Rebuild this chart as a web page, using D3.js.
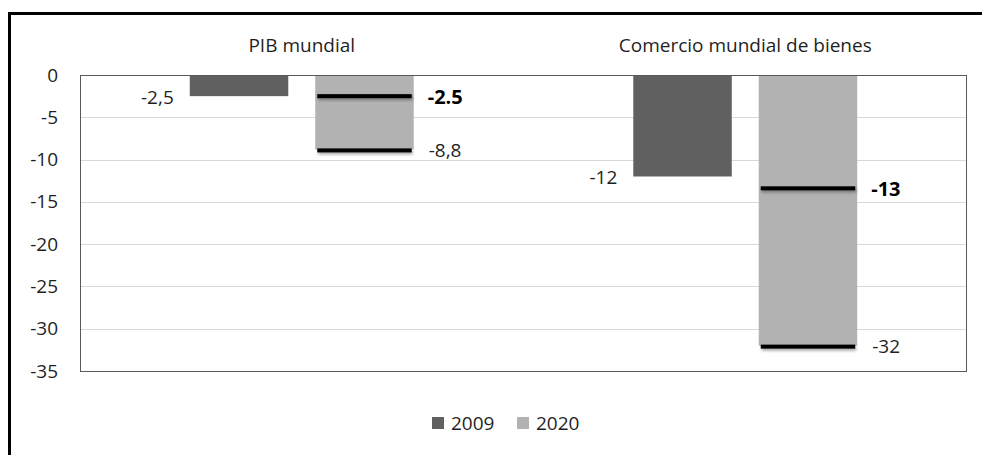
<!DOCTYPE html>
<html>
<head>
<meta charset="utf-8">
<script src="https://cdn.jsdelivr.net/npm/d3@7"></script>
<style>
  body { margin: 0; background: #fff; }
  svg { display: block; font-family: "Open Sans", sans-serif; }
</style>
</head>
<body>
<div id="chart"></div>
<script>
// chart values
const categories = ["PIB mundial", "Comercio mundial de bienes"];
const years = ["2009", "2020"];
const values2009 = [-2.5, -12];
const values2020 = [-8.8, -32];
const labels2009 = ["-2,5", "-12"];
const labels2020 = ["-8,8", "-32"];
// forecast markers drawn on the 2020 bars
const forecastValues = [-2.5, -13.4];
const forecastLabels = ["-2.5", "-13"];
const yTicks = [0, -5, -10, -15, -20, -25, -30, -35];

const width = 982, height = 455;
const margin = {top: 75, right: 15, bottom: 84, left: 80};
const colors = {"2009": "#606060", "2020": "#b2b2b2"};
const fontSize = "19px";
const textColor = "#1f1f1f";

const svg = d3.select("#chart").append("svg")
    .attr("width", width)
    .attr("height", height);

const defs = svg.append("defs");
const shadow = defs.append("filter").attr("id", "shadow")
    .attr("x", "-10%").attr("y", "-100%").attr("width", "120%").attr("height", "400%");
shadow.append("feDropShadow")
    .attr("dx", 1).attr("dy", 2).attr("stdDeviation", 1.5)
    .attr("flood-color", "#000").attr("flood-opacity", 0.35);

// outer frame (only left and top edges visible)
svg.append("path")
    .attr("d", `M9.5,${height} V13.5 H${width}`)
    .attr("fill", "none")
    .attr("stroke", "#000")
    .attr("stroke-width", 3);

let y = d3.scaleLinear()
    .domain([-35, 0])
    .range([height - margin.bottom, margin.top]);

let x0 = d3.scaleBand()
    .domain(categories)
    .range([margin.left, width - margin.right]);

let x1 = d3.scaleBand()
    .domain(years)
    .range([0, x0.bandwidth()])
    .paddingInner(0.215)
    .paddingOuter(0.875);

// gridlines
svg.append("g")
  .selectAll("line")
  .data(yTicks.filter(d => d !== 0 && d !== -35))
  .enter().append("line")
    .attr("x1", margin.left).attr("x2", width - margin.right)
    .attr("y1", d => Math.round(y(d)) + 0.5)
    .attr("y2", d => Math.round(y(d)) + 0.5)
    .attr("stroke", "#d9d9d9");

// y axis labels
let yAxis = g => g
    .attr("transform", `translate(${margin.left},0)`)
    .style("font-size", fontSize)
    .style("font-family", "Open Sans, sans-serif")
    .call(d3.axisLeft(y).tickValues(yTicks).tickSize(0).tickPadding(22).tickFormat(d => d))
    .call(g => g.select(".domain").remove())
    .call(g => g.selectAll("text").attr("fill", textColor));
svg.append("g").call(yAxis);

// category labels at the top
svg.append("g")
  .selectAll("text")
  .data(categories)
  .enter().append("text")
    .attr("x", d => x0(d) + x0.bandwidth() / 2)
    .attr("y", 52)
    .attr("text-anchor", "middle")
    .attr("font-size", fontSize)
    .attr("fill", textColor)
    .text(d => d);

const rows = categories.map((c, i) => ({
  cat: c,
  bars: [
    {year: "2009", value: values2009[i], label: labels2009[i]},
    {year: "2020", value: values2020[i], label: labels2020[i]}
  ],
  forecast: forecastValues[i],
  forecastLabel: forecastLabels[i]
}));

// bars
const groups = svg.append("g")
  .selectAll("g")
  .data(rows)
  .enter().append("g")
    .attr("transform", d => `translate(${x0(d.cat)},0)`);

groups.selectAll("rect")
  .data(d => d.bars)
  .enter().append("rect")
    .attr("x", d => x1(d.year))
    .attr("y", y(0))
    .attr("width", x1.bandwidth())
    .attr("height", d => y(d.value) - y(0))
    .attr("fill", d => colors[d.year]);

// 2009 labels, left of the bar end
groups.append("text")
    .attr("x", x1("2009") - 16)
    .attr("y", d => y(d.bars[0].value) + 1)
    .attr("dy", "0.35em")
    .attr("text-anchor", "end")
    .attr("font-size", fontSize)
    .attr("fill", textColor)
    .text(d => d.bars[0].label);

// marker lines on 2020 bars
const markerH = 4;
groups.append("rect")
    .attr("x", x1("2020") + 2)
    .attr("width", x1.bandwidth() - 4)
    .attr("y", d => y(d.bars[1].value) - 1)
    .attr("height", markerH)
    .attr("fill", "#000")
    .attr("filter", "url(#shadow)");

groups.append("rect")
    .attr("x", x1("2020") + 2)
    .attr("width", x1.bandwidth() - 4)
    .attr("y", d => y(d.forecast) - markerH / 2)
    .attr("height", markerH)
    .attr("fill", "#000")
    .attr("filter", "url(#shadow)");

groups.append("text")
    .attr("x", x1("2020") + x1.bandwidth() + 15)
    .attr("y", d => y(d.bars[1].value) + 1)
    .attr("dy", "0.35em")
    .attr("font-size", fontSize)
    .attr("fill", textColor)
    .text(d => d.bars[1].label);

groups.append("text")
    .attr("x", x1("2020") + x1.bandwidth() + 14)
    .attr("y", d => y(d.forecast) + 1)
    .attr("dy", "0.35em")
    .attr("font-size", "20px")
    .attr("font-weight", "bold")
    .attr("fill", "#000")
    .text(d => d.forecastLabel);

// plot border
svg.append("rect")
    .attr("x", margin.left + 0.5)
    .attr("y", margin.top + 0.5)
    .attr("width", width - margin.left - margin.right - 1)
    .attr("height", y(-35) - y(0))
    .attr("fill", "none")
    .attr("stroke", "#595959");

// legend
const legend = svg.append("g")
    .attr("transform", "translate(432,423)");
const legendX = d3.scaleOrdinal().domain(years).range([0, 85]);
const item = legend.selectAll("g")
  .data(years)
  .enter().append("g")
    .attr("transform", d => `translate(${legendX(d)},0)`);
item.append("rect")
    .attr("x", 0).attr("y", -6)
    .attr("width", 12).attr("height", 12)
    .attr("fill", d => colors[d]);
item.append("text")
    .attr("x", 19)
    .attr("dy", "0.35em")
    .attr("font-size", fontSize)
    .attr("fill", textColor)
    .text(d => d);
</script>
</body>
</html>
